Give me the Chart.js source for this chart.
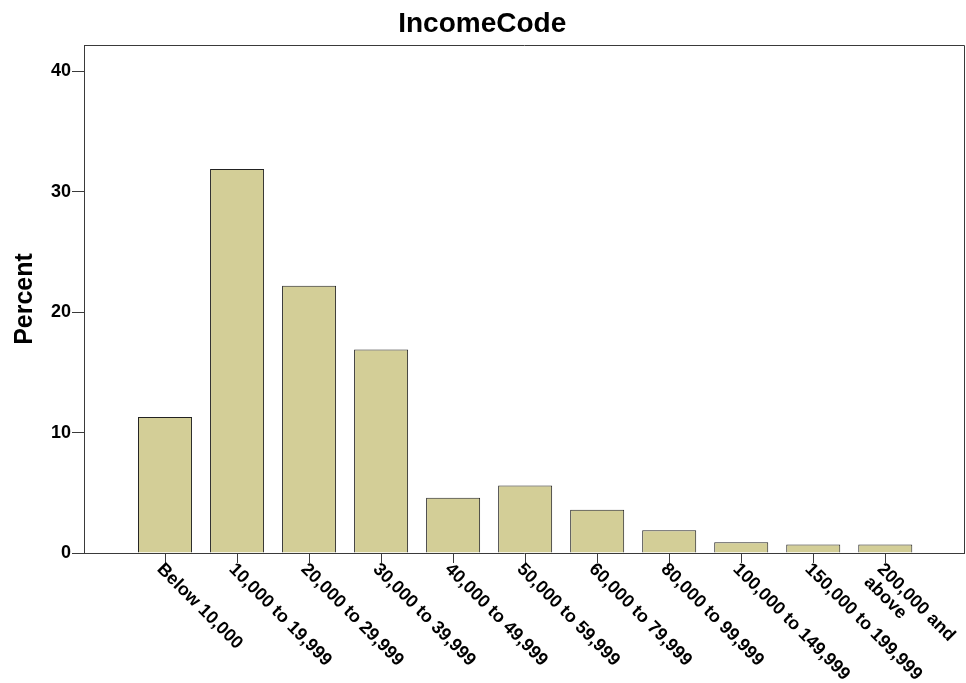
<!DOCTYPE html>
<html>
<head>
<meta charset="utf-8">
<script src="https://cdn.jsdelivr.net/npm/chart.js@4.4.1/dist/chart.umd.min.js"></script>
<style>
  html, body { margin: 0; padding: 0; background: #fff; }
  #wrap { width: 966px; height: 683px; }
</style>
</head>
<body>
<div id="wrap"><canvas id="income-chart"></canvas></div>
<script>
// Income categories
var categories = [
    'Below 10,000', '10,000 to 19,999', '20,000 to 29,999', '30,000 to 39,999',
    '40,000 to 49,999', '50,000 to 59,999', '60,000 to 79,999', '80,000 to 99,999',
    '100,000 to 149,999', '150,000 to 199,999', ['200,000 and', 'above']
];
// Percent per category
var percents = [11.3, 31.9, 22.2, 16.9, 4.6, 5.6, 3.6, 1.9, 0.9, 0.7, 0.7];
// Y axis tick labels
var yTicks = [0, 10, 20, 30, 40];

var FONT = '"Liberation Sans", Arial, sans-serif';
var AXIS_COLOR = '#3a3a3a';

// frame around the plot area (top + right lines)
var boxPlugin = {
    id: 'plotBox',
    beforeDatasetsDraw: function(chart) {
        var a = chart.chartArea, ctx = chart.ctx;
        ctx.save();
        ctx.strokeStyle = AXIS_COLOR;
        ctx.lineWidth = 1;
        ctx.beginPath();
        ctx.moveTo(Math.round(a.left) + 0.5, Math.round(a.top) + 0.5);
        ctx.lineTo(Math.floor(a.right) + 0.5, Math.round(a.top) + 0.5);
        ctx.lineTo(Math.floor(a.right) + 0.5, Math.round(a.bottom) + 0.5);
        ctx.stroke();
        ctx.restore();
    }
};

// slanted category labels, starting at the tick and running down-right
var xLabelPlugin = {
    id: 'xLabels',
    afterDraw: function(chart) {
        var ctx = chart.ctx, xs = chart.scales.x, a = chart.chartArea;
        ctx.save();
        ctx.font = 'bold 18px ' + FONT;
        ctx.fillStyle = '#000';
        ctx.textAlign = 'left';
        ctx.textBaseline = 'top';
        categories.forEach(function(lab, i) {
            var lines = [].concat(lab);
            ctx.save();
            ctx.translate(xs.getPixelForValue(i) + 1, a.bottom + 7);
            ctx.rotate(Math.PI / 4);
            lines.forEach(function(t, j) { ctx.fillText(t, 0, j * 18.5); });
            ctx.restore();
        });
        ctx.restore();
    }
};

var ctx = document.getElementById('income-chart');

var chartData = {
    datasets: [{
        label: 'Percent',
        data: percents.map(function(v, i) { return { x: i, y: v }; }),
        backgroundColor: '#d3ce97',
        borderColor: '#222',
        borderWidth: 1,
        barPercentage: 0.75,
        categoryPercentage: 1.0
    }]
};

var chartOptions = {
    responsive: true,
    maintainAspectRatio: false,
    animation: false,
    layout: { padding: { left: 0, right: 1.5, top: 0, bottom: 0 } },
    plugins: {
        legend: { display: false },
        tooltip: { enabled: false },
        title: {
            display: true,
            text: 'IncomeCode',
            color: '#000',
            font: { family: FONT, size: 28, weight: 'bold', lineHeight: 1.2 },
            padding: { top: 7, bottom: 4.4 }
        }
    },
    scales: {
        x: {
            type: 'linear',
            min: -1.125,
            max: 11.1,
            offset: false,
            afterBuildTicks: function(s) {
                s.ticks = categories.map(function(c, i) { return { value: i }; });
            },
            afterFit: function(s) { s.height = 130; },
            ticks: { display: false },
            grid: {
                display: true,
                offset: false,
                drawOnChartArea: false,
                drawTicks: true,
                tickLength: 10,
                color: AXIS_COLOR
            },
            border: { display: true, color: AXIS_COLOR, width: 1 }
        },
        y: {
            min: 0,
            max: 42.2,
            afterBuildTicks: function(s) {
                s.ticks = yTicks.map(function(v) { return { value: v }; });
            },
            afterFit: function(s) { s.width = 84; },
            ticks: {
                color: '#000',
                padding: 1,
                font: { family: FONT, size: 18, weight: 'bold' }
            },
            grid: {
                display: true,
                drawOnChartArea: false,
                drawTicks: true,
                tickLength: 12,
                color: AXIS_COLOR
            },
            border: { display: true, color: AXIS_COLOR, width: 1 },
            title: {
                display: true,
                text: 'Percent',
                color: '#000',
                font: { family: FONT, size: 25, weight: 'bold', lineHeight: 1.2 },
                padding: { top: 10, bottom: 0 }
            }
        }
    }
};

var incomeChart = new Chart(ctx, {
    type: 'bar',
    data: chartData,
    options: chartOptions,
    plugins: [boxPlugin, xLabelPlugin]
});
</script>
</body>
</html>
